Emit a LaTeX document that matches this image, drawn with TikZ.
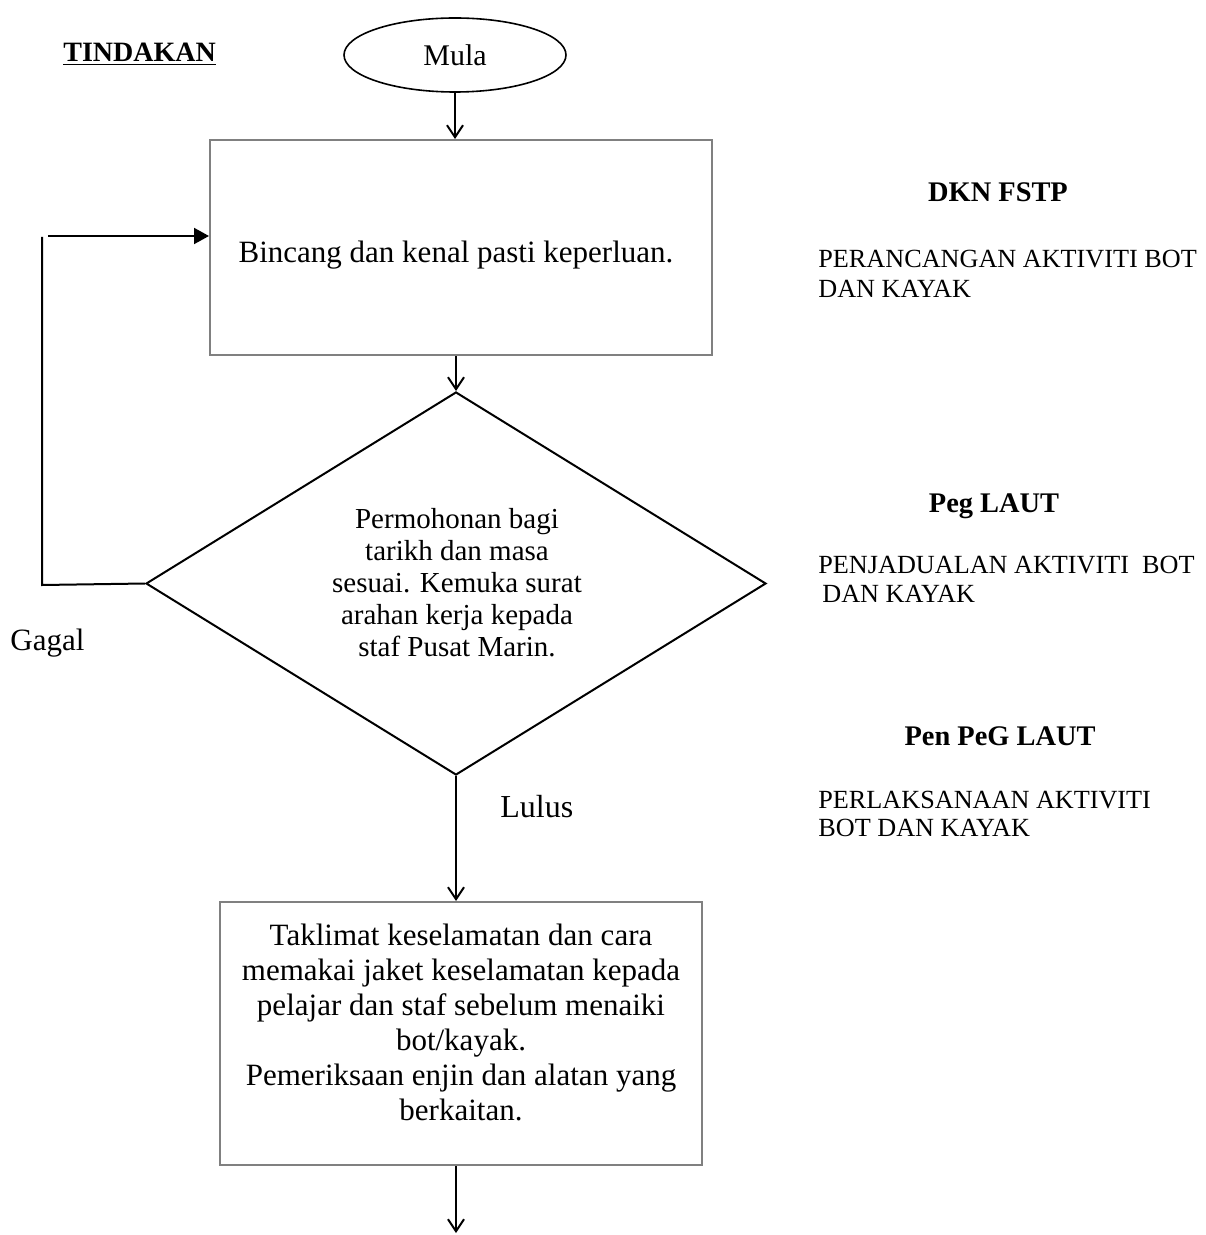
\documentclass[tikz,border=0pt]{standalone}
\usepackage{fontspec}
\setmainfont{Liberation Serif}
\usetikzlibrary{shapes.geometric,arrows.meta}
\begin{document}
\begin{tikzpicture}[x=0.5pt,y=-0.5pt,
  conn/.style={line width=1pt,black},
  vee/.style={conn,-{Straight Barb[length=6pt,width=8pt,line width=1pt]}},
  tri/.style={conn,-{Triangle[length=7.5pt,width=8pt]}},
  procbox/.style={draw=black!50,line width=1pt,rectangle,inner sep=0pt},
  txt/.style={inner sep=0pt,font=\fontsize{15.5}{17.5}\selectfont,align=center},
  dtxt/.style={inner sep=0pt,font=\fontsize{14.5}{16}\selectfont,align=center},
  head/.style={inner sep=0pt,anchor=base,font=\fontsize{14.2}{16}\selectfont\bfseries},
  rtxt/.style={inner sep=0pt,anchor=base west,font=\fontsize{13.1}{15}\selectfont},
]
\useasboundingbox (0,0) rectangle (1205,1235);
\fill[white] (0,0) rectangle (1205,1235);

% title
\node[inner sep=0pt,anchor=base west,font=\fontsize{14}{16}\selectfont\bfseries] (tind) at (63,62) {\underline{TINDAKAN}};

% start
\node[ellipse,draw=black,line width=0.8pt,minimum width=111pt,minimum height=37pt,inner sep=0pt,
      font=\fontsize{15}{17}\selectfont] (m) at (455,55) {Mula};

% box 1
\node[procbox,minimum width=251pt,minimum height=107.5pt] (b1) at (461,247.5) {};
\node[txt] (b1t) at (456,255) {Bincang dan kenal pasti keperluan.};

% decision
\node[diamond,draw=black,line width=1pt,minimum width=310pt,minimum height=191.5pt,inner sep=0pt] (d) at (456,583.5) {};
\node[dtxt] (dt) at (457,583) {Permohonan bagi\\tarikh dan masa\\sesuai. Kemuka surat\\arahan kerja kepada\\staf Pusat Marin.};

% box 2
\node[procbox,minimum width=241pt,minimum height=131.5pt] (b2) at (461,1033.5) {};
\node[txt] (b2t) at (461,1022) {Taklimat keselamatan dan cara\\memakai jaket keselamatan kepada\\pelajar dan staf sebelum menaiki\\bot/kayak.\\Pemeriksaan enjin dan alatan yang\\berkaitan.};

% labels
\node[inner sep=0pt,anchor=base west,font=\fontsize{15.5}{17}\selectfont] (gagal) at (10,650) {Gagal};
\node[inner sep=0pt,anchor=base west,font=\fontsize{16}{17}\selectfont] (lulus) at (500,817) {Lulus};

% right column
\node[head] (h1) at (998,202) {DKN FSTP};
\node[rtxt] (r1a) at (818,268) {PERANCANGAN AKTIVITI BOT};
\node[rtxt] (r1b) at (818,298) {DAN KAYAK};
\node[head] (h2) at (994,512) {Peg LAUT};
\node[rtxt] (r2a) at (818,573) {PENJADUALAN AKTIVITI\ \ BOT};
\node[rtxt] (r2b) at (822,602) {DAN KAYAK};
\node[head] (h3) at (1000,745) {Pen PeG LAUT};
\node[rtxt] (r3a) at (818,808) {PERLAKSANAAN AKTIVITI};
\node[rtxt] (r3b) at (818,836) {BOT DAN KAYAK};

% connectors
\draw[vee] (m.south) -- (m.south |- b1.north);
\draw[vee] (d.north |- b1.south) -- (d.north);
\draw[vee] (d.south) -- (d.south |- b2.north);
\coordinate (endpt) at (456,1233);
\draw[vee] (b2.south -| endpt) -- (endpt);

% Gagal loop
\coordinate (gl) at (42,585);
\coordinate (gt) at (42,237);
\coordinate (ga) at (48,236);
\draw[conn] (d.west) -- (gl) -- (gt);
\draw[tri] (ga) -- (ga -| b1.west);
\end{tikzpicture}
\end{document}
